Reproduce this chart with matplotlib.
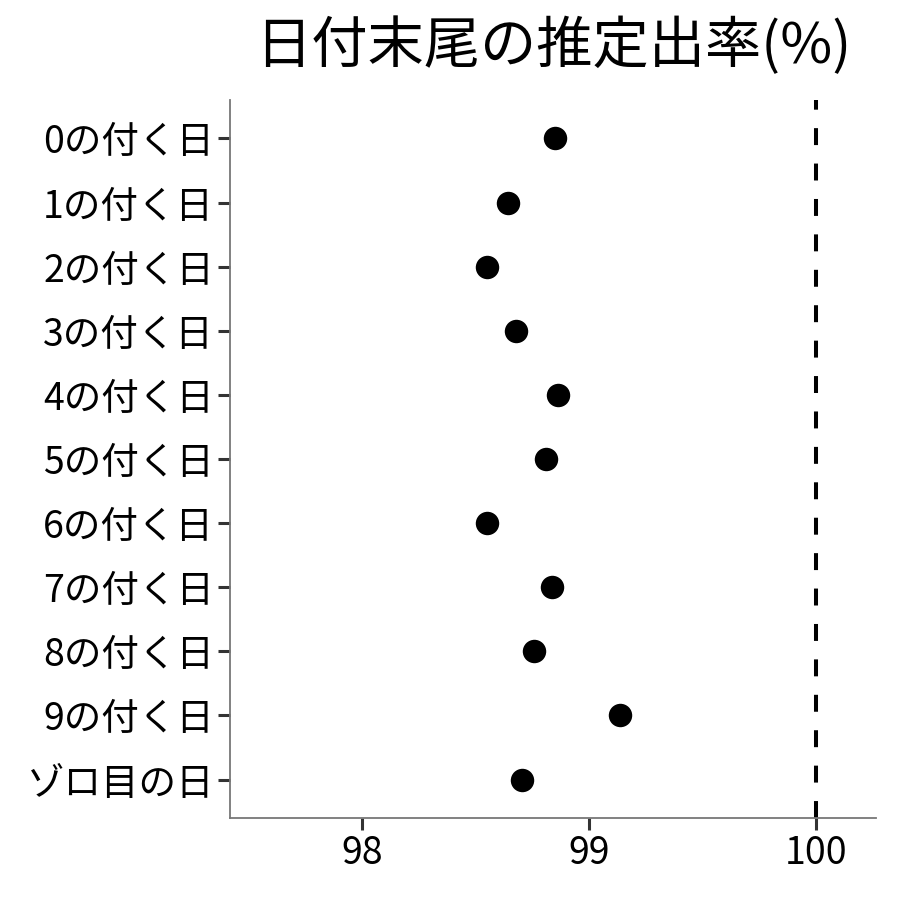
import matplotlib
matplotlib.use("Agg")
import matplotlib.pyplot as plt

plt.rcParams['font.family'] = ['Noto Sans CJK JP', 'DejaVu Sans']
plt.rcParams['lines.scale_dashes'] = False

categories = ["0の付く日", "1の付く日", "2の付く日", "3の付く日", "4の付く日",
              "5の付く日", "6の付く日", "7の付く日", "8の付く日", "9の付く日",
              "ゾロ目の日"]
values = [98.85, 98.643, 98.551, 98.678, 98.863, 98.811, 98.551, 98.837,
          98.758, 99.137, 98.705]
ref_value = 100
x_ticks = [98, 99, 100]
title = "日付末尾の推定出率(%)"

fig = plt.figure(figsize=(9, 9), dpi=100)
ax = fig.add_axes([230/900, 1-818/900, (876-230)/900, (818-100)/900])

n = len(categories)
ypos = list(range(n))
ax.scatter(values, ypos, s=285, color='black', zorder=3, linewidths=0)
ax.axvline(ref_value, color='black', linewidth=2.9, dashes=(12.2, 13.3), zorder=2)

ax.set_ylim(n - 1 + 0.6, -0.6)
ax.set_xlim(97.418, 100.264)
ax.set_yticks(ypos)
ax.set_yticklabels(categories)
ax.set_xticks(x_ticks)
ax.set_xticklabels([str(t) for t in x_ticks])

for s in ['top', 'right']:
    ax.spines[s].set_visible(False)
for s in ['left', 'bottom']:
    ax.spines[s].set_color('#777777')
    ax.spines[s].set_linewidth(1.3)

ax.tick_params(axis='both', length=8.5, width=2.2, color='#333333',
               labelsize=27, labelcolor='black', pad=3)

fig.text((230+876)/2/900, 1-47/900, title, ha='center', va='center',
         fontsize=40.5)

fig.savefig("out.png", dpi=100, facecolor='white')
